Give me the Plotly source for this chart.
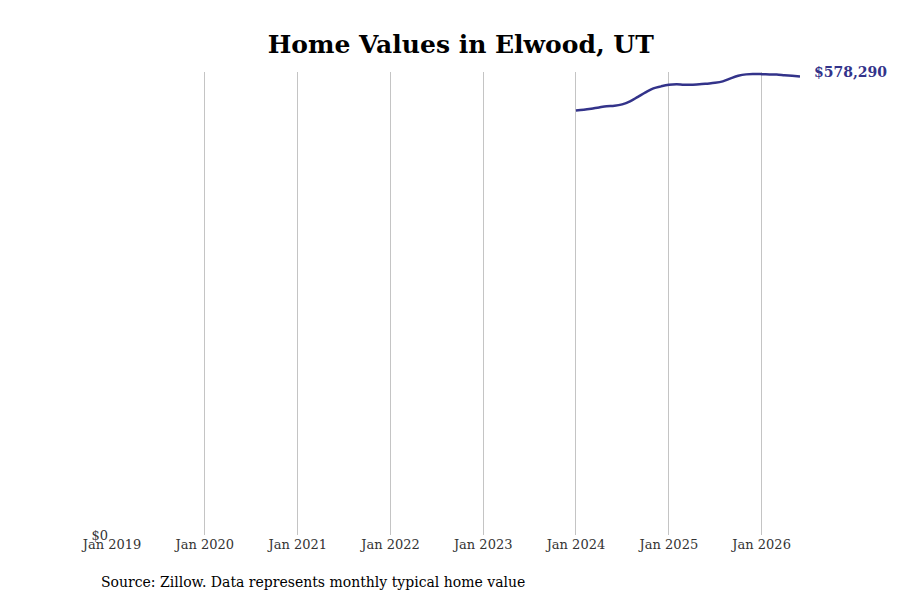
import pandas as pd
import plotly.graph_objects as go

# monthly typical home value, Elwood UT
dates = pd.date_range("2024-01-01", "2026-06-01", freq="MS")
values = [
    535400, 536400, 537700, 539300, 540700, 541300, 543200, 547000, 552700, 558400, 563400, 565900,
    567800, 568400, 567800, 568000, 568400, 569300, 570300, 572200, 576000, 579200, 581000, 581400,
    581300, 581000, 580900, 580000, 579200, 578290,
]
tick_dates = pd.date_range("2019-01-01", "2026-01-01", freq="YS")
tick_labels = [d.strftime("Jan %Y") for d in tick_dates]

line_color = "#33338a"
font_family = "DejaVu Serif, serif"

fig = go.Figure()
fig.add_trace(go.Scatter(
    x=dates, y=values, mode="lines",
    line=dict(color=line_color, width=2.5, shape="spline"),
    hoverinfo="skip", showlegend=False,
))

# label on the last value
fig.add_annotation(
    x=dates[-1], y=values[-1], text=f"<b>${values[-1]:,}</b>",
    showarrow=False, xanchor="left", yanchor="middle", xshift=12, yshift=5,
    font=dict(family=font_family, size=14, color=line_color),
)
fig.add_annotation(
    xref="paper", yref="paper", x=-0.019, y=-0.102,
    text="Source: Zillow. Data represents monthly typical home value",
    showarrow=False, xanchor="left", yanchor="middle",
    font=dict(family=font_family, size=14, color="black"),
)

fig.update_layout(
    width=900, height=600,
    paper_bgcolor="white", plot_bgcolor="white",
    margin=dict(l=104, r=108, t=64, b=73),
    font=dict(family=font_family, size=13, color="#333"),
    title=dict(
        text="<b>Home Values in Elwood, UT</b>", x=0.503, xanchor="center",
        y=0.94, yanchor="middle", font=dict(family=font_family, size=25, color="black"),
    ),
    xaxis=dict(
        range=[tick_dates[0], dates[-1]], tickvals=tick_dates, ticktext=tick_labels,
        showgrid=True, gridcolor="#c4c4c4", gridwidth=1, zeroline=False, showline=False,
        ticks="", fixedrange=True,
    ),
    yaxis=dict(
        range=[0, 584000], tickvals=[0], ticktext=["$0"], showgrid=False,
        zeroline=False, showline=False, ticks="", fixedrange=True, ticklabelstandoff=3,
    ),
)

fig.write_html("out.html")
